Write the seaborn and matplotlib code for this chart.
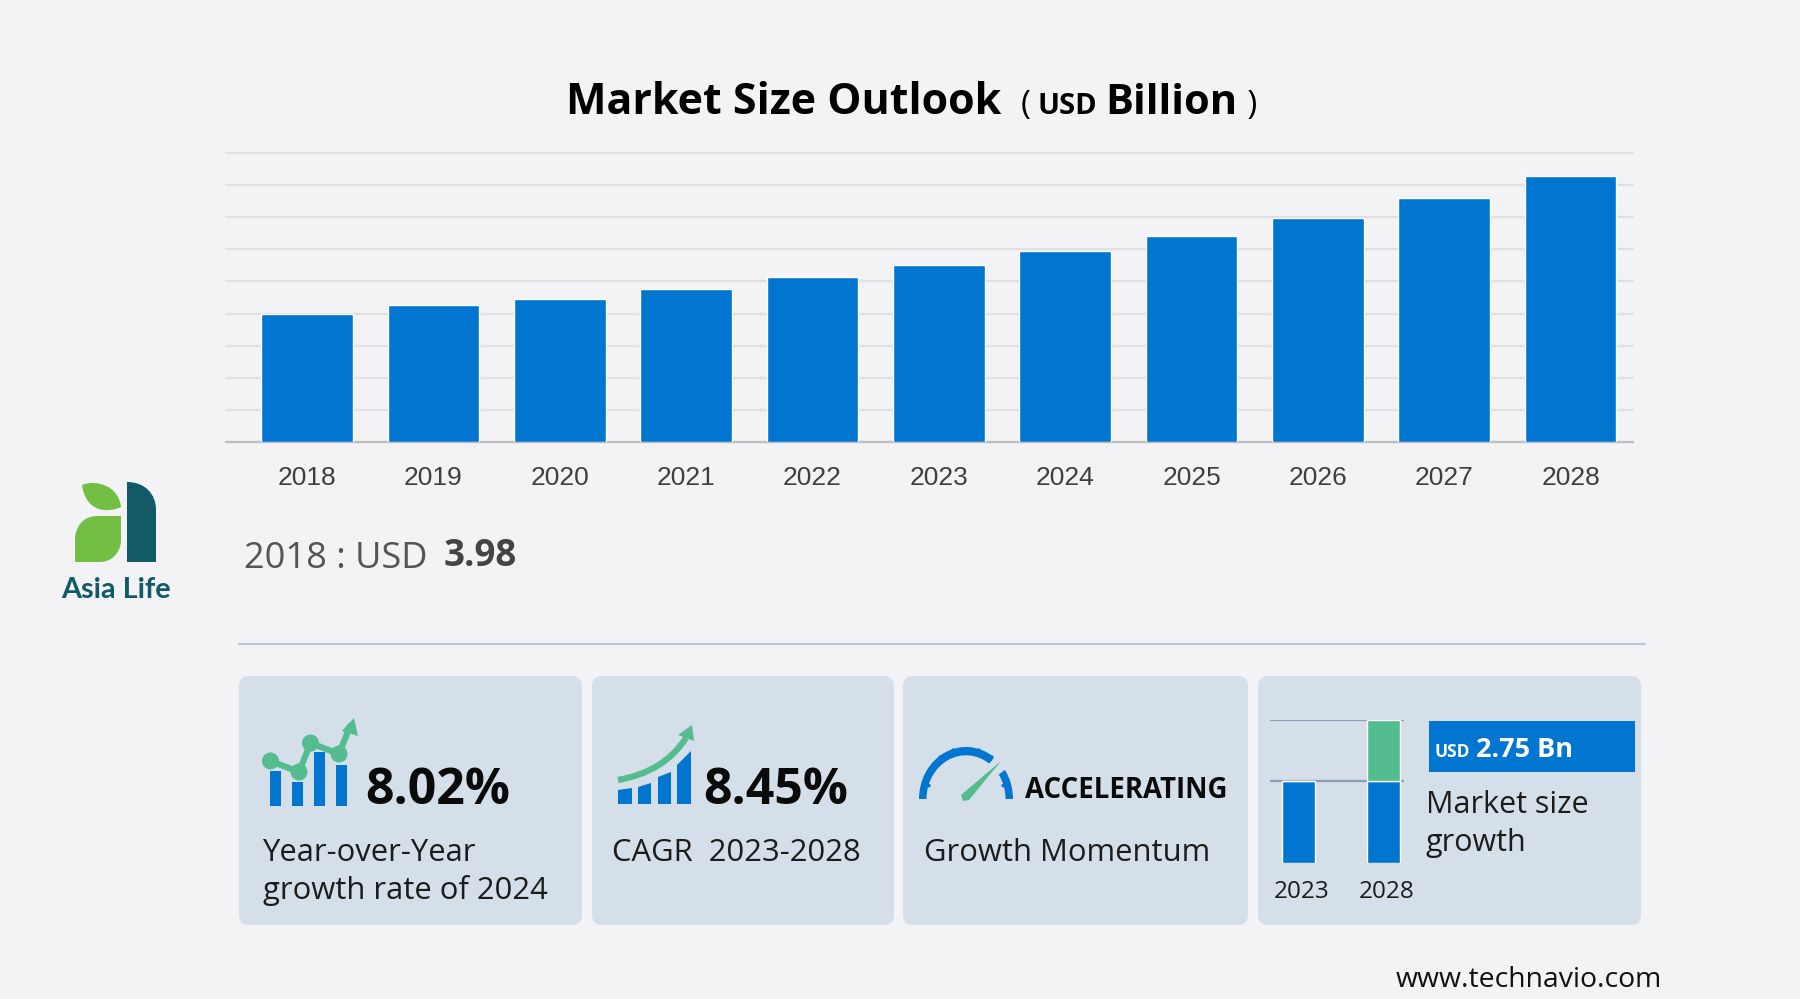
import matplotlib
matplotlib.use("Agg")
import matplotlib.pyplot as plt
import seaborn as sns
from matplotlib.patches import FancyBboxPatch, Rectangle, PathPatch, Wedge, Circle, Polygon
from matplotlib.path import Path
from matplotlib.transforms import Affine2D

years = ["2018", "2019", "2020", "2021", "2022", "2023", "2024", "2025", "2026", "2027", "2028"]
market_size = [3.98, 4.28, 4.44, 4.77, 5.14, 5.52, 5.96, 6.43, 6.98, 7.60, 8.27]
grid_ticks = list(range(10))

growth_years = ["2023", "2028"]
growth_base = [4, 4]
growth_added = [0, 3]

BG = "#F3F3F6"
CARD = "#D5DFEA"
BLUE = "#0076D1"
GREEN = "#54BC8F"
LEAF = "#72BF44"
TEAL = "#125B66"
W, H = 1800, 999
SANS = "Open Sans"

sns.set_theme(style="white")
plt.rcParams["font.family"] = [SANS, "DejaVu Sans"]

fig = plt.figure(figsize=(W / 100, H / 100), dpi=100, facecolor=BG)


def axes_px(x0, y0, x1, y1, **kw):
    return fig.add_axes([x0 / W, 1 - y1 / H, (x1 - x0) / W, (y1 - y0) / H], **kw)


# overlay in pixel coordinates for the cards, icons and text
bg = axes_px(0, 0, W, H)
bg.set_xlim(0, W)
bg.set_ylim(H, 0)
bg.axis("off")


def txt(x, y, s, size, color="#1c1c1c", weight="normal", family=SANS, ha="left"):
    bg.text(x, y, s, fontsize=size, color=color, fontweight=weight, family=family, ha=ha, va="baseline")


# main bars
ax = axes_px(225.6, 152.9, 1632.5, 442.2)
ax.patch.set_alpha(0)
sns.barplot(x=years, y=market_size, color=BLUE, saturation=1, width=0.725, ax=ax, zorder=3)
ax.set_xlim(-0.645, 10.49)
ax.set_ylim(0, 9)
ax.set_yticks(grid_ticks)
ax.set_yticklabels([])
ax.set_xlabel("")
ax.set_ylabel("")
ax.grid(axis="y", color="#E0E0E3", linewidth=1.6, clip_on=False)
ax.set_axisbelow(True)
ax.tick_params(axis="x", length=0, pad=17, labelsize=19, labelcolor="#3f3f3f")
ax.tick_params(axis="y", length=0)
for lab in ax.get_xticklabels():
    lab.set_family("Liberation Sans")
for side in ["top", "left", "right"]:
    ax.spines[side].set_visible(False)
ax.spines["bottom"].set_color("#BDBDC1")
ax.spines["bottom"].set_linewidth(1.6)

# title
txt(566, 114, "Market Size Outlook", 31, "black", "bold")
txt(1021, 114, "(", 24, "black")
txt(1038, 114, "USD", 21, "black", "bold")
txt(1105, 114, "Billion", 30, "black", "bold")
txt(1244, 114, "\u200a)", 24, "black")

# 2018 value
txt(244, 568, "2018 : USD", 26, "#555555")
txt(444, 566, "3.98", 26.5, "#444444", "bold")

# divider
bg.plot([239, 1645], [644, 644], color="#BAC6D8", linewidth=1.6)

# cards
for x0, x1 in [(239, 582), (592, 894), (903, 1248), (1258, 1641)]:
    bg.add_patch(FancyBboxPatch((x0, 676), x1 - x0, 249, boxstyle="round,pad=0,rounding_size=10",
                                facecolor=CARD, edgecolor="none"))

# card 1 icon
for x0, top in [(270, 771), (292, 782), (314, 752), (336, 765)]:
    bg.add_patch(Rectangle((x0, top), 11, 806 - top, color=BLUE, lw=0))
bg.plot([270.5, 299, 310.5, 339, 350], [761, 772, 743, 754, 726], color=GREEN, linewidth=4.5, zorder=3)
for cx, cy in [(270.5, 761), (299, 772), (310.5, 743), (339, 754)]:
    bg.add_patch(Circle((cx, cy), 8.5, color=GREEN, lw=0, zorder=3))
bg.add_patch(Polygon([(354, 718), (358, 736), (342, 731)], color=GREEN, lw=0, zorder=3))

# card 2 icon
for x0, x1, t0, t1 in [(618, 632, 790, 788), (638, 651, 787, 783), (658, 671, 777, 772), (677, 691, 765, 751)]:
    bg.add_patch(Polygon([(x0, 804), (x0, t0), (x1, t1), (x1, 804)], color=BLUE, lw=0))
curve = Path([(618, 780), (664, 772), (686, 738)], [Path.MOVETO, Path.CURVE3, Path.CURVE3])
bg.add_patch(PathPatch(curve, facecolor="none", edgecolor=GREEN, linewidth=4.5, capstyle="butt"))
bg.add_patch(Polygon([(692, 725), (694, 741), (678, 735)], color=GREEN, lw=0))

# card 3 gauge, a little taller than it is wide
gauge = Affine2D().scale(1, 52 / 47).translate(966, 799) + bg.transData
for start, end in [(180, 306), (326, 360)]:
    bg.add_patch(Wedge((0, 0), 47, start, end, width=7.5, color=BLUE, lw=0, transform=gauge))
for tx, ty in [(-37, -12), (-33, -25), (-24, -35), (-12, -41), (0, -42), (12, -41), (24, -35), (37, -12)]:
    bg.plot([tx, tx * 1.08], [ty, ty * 1.08], color=BLUE, linewidth=2.5, transform=gauge)
bg.add_patch(Polygon([(1001, 761), (969, 800), (963, 801), (961, 795)], color=GREEN, lw=0, zorder=4))

# card 4 small bars
ax2 = axes_px(1270, 720, 1404, 863)
ax2.patch.set_alpha(0)
sns.barplot(x=growth_years, y=growth_base, color=BLUE, saturation=1, width=0.38, ax=ax2, zorder=3)
sns.barplot(x=growth_years, y=growth_added, bottom=growth_base, color=GREEN, saturation=1, width=0.38, ax=ax2, zorder=3)
ax2.set_xticks([0.035, 1.035], growth_years)
ax2.set_xlim(-0.335, 1.24)
ax2.set_ylim(0, 7)
ax2.set_yticks([4, 7])
ax2.set_yticklabels([])
ax2.set_xlabel("")
ax2.set_ylabel("")
ax2.grid(axis="y", color="#8E9DB3", linewidth=1.6)
ax2.tick_params(length=0)
ax2.tick_params(axis="x", pad=12, labelsize=17.5, labelcolor="#1c1c1c")
sns.despine(ax=ax2, left=True, bottom=True)

bg.add_patch(Rectangle((1428.5, 721), 206, 51, color=BLUE, lw=0))
txt(1435, 757, "USD", 12.5, "white", "bold")
txt(1476, 757, "2.75 Bn", 19.5, "white", "bold")
txt(1426, 813, "Market size", 22)
txt(1426, 851, "growth", 22)

# card text
txt(365, 804, "8.02%", 36, "#0a0a0a", "bold")
txt(703, 804, "8.45%", 36, "#0a0a0a", "bold")
txt(1025, 798, "ACCELERATING", 19.8, "#0a0a0a", "bold")
txt(262.5, 861, "Year-over-Year", 22.3)
txt(263, 899, "growth rate of 2024", 22.3)
txt(612, 861, "CAGR  2023-2028", 22.3)
txt(924, 861, "Growth Momentum", 22.3)
txt(1396, 987, "www.technavio.com", 20.4, "#111111")

# logo
leaf_top = Path([(82, 485), (96, 479), (119, 486), (121, 507), (108, 513), (86, 513), (82, 485)],
                [Path.MOVETO, Path.CURVE4, Path.CURVE4, Path.CURVE4, Path.CURVE4, Path.CURVE4, Path.CURVE4])
bg.add_patch(PathPatch(leaf_top, facecolor=LEAF, edgecolor="none"))
leaf_low = Path([(121, 516), (97, 516), (84, 516), (75, 526), (75, 540), (75, 562), (100, 562), (112, 562), (121, 552), (121, 540), (121, 516)],
                [Path.MOVETO, Path.LINETO, Path.CURVE4, Path.CURVE4, Path.CURVE4, Path.LINETO, Path.LINETO, Path.CURVE4, Path.CURVE4, Path.CURVE4, Path.LINETO])
bg.add_patch(PathPatch(leaf_low, facecolor=LEAF, edgecolor="none"))
stem = Path([(127, 482), (145, 482), (156, 494), (156, 510), (156, 562), (127, 562), (127, 482)],
            [Path.MOVETO, Path.CURVE4, Path.CURVE4, Path.CURVE4, Path.LINETO, Path.LINETO, Path.LINETO])
bg.add_patch(PathPatch(stem, facecolor=TEAL, edgecolor="none"))
txt(61, 598, "Asia Life", 20.7, TEAL, "bold", "Lato")

fig.savefig("out.png", dpi=100, facecolor=BG)
